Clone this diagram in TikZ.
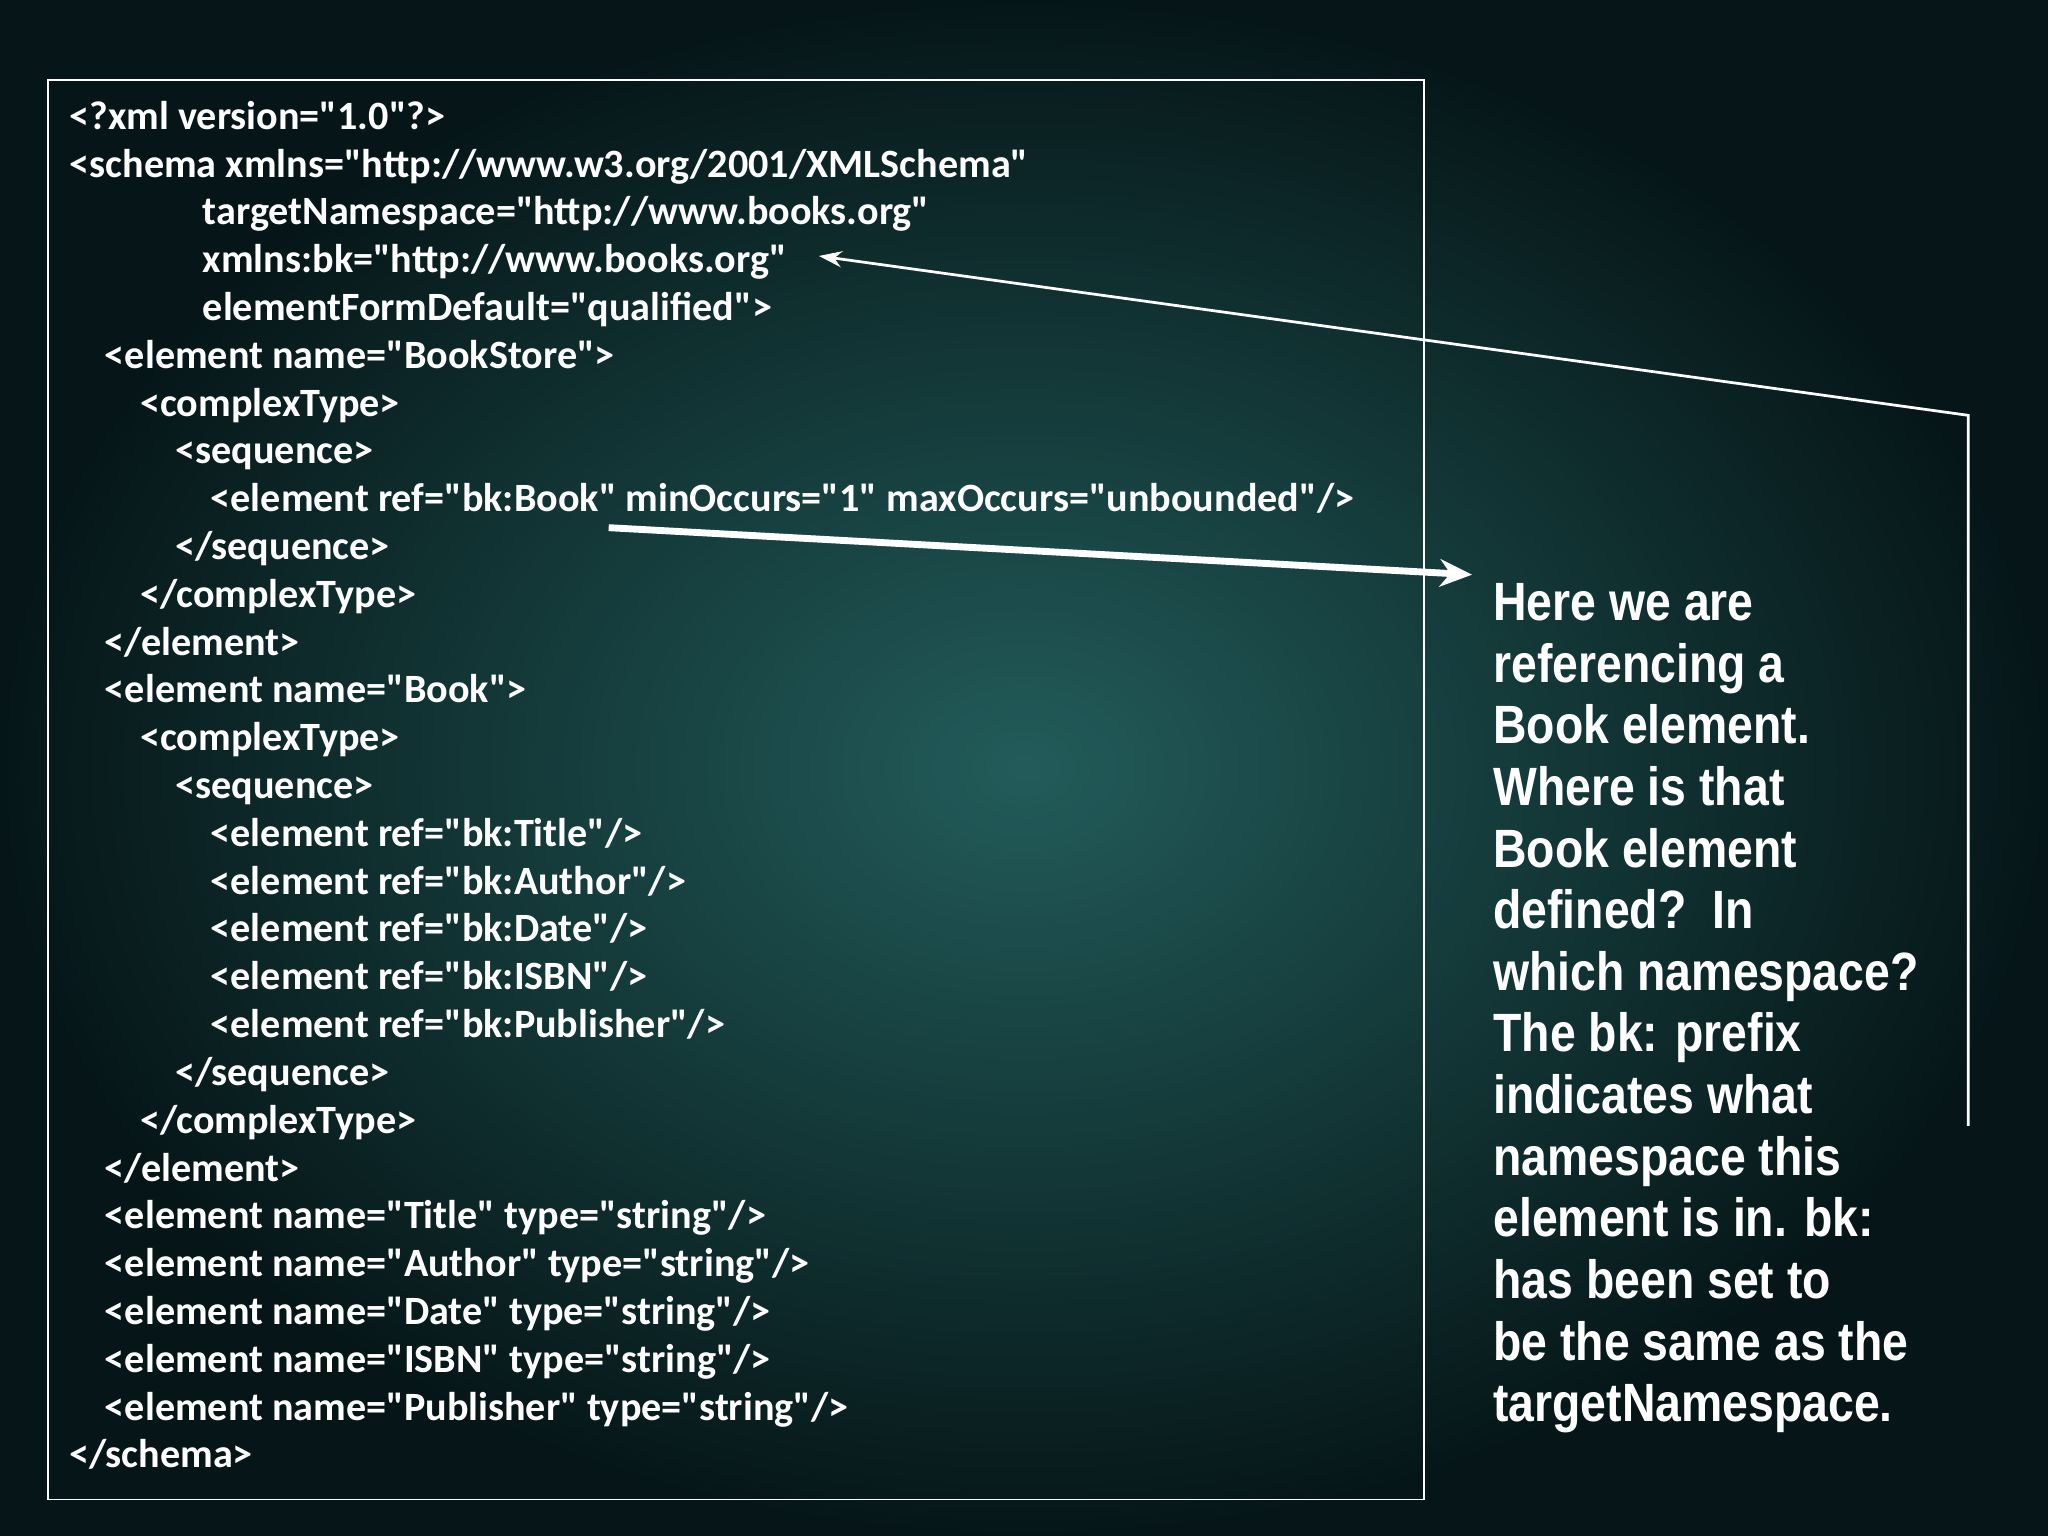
\documentclass[tikz,border=0pt]{standalone}
\usepackage{fontspec}
\setmainfont{Carlito}
\newfontfamily\blk{Liberation Sans}[FakeStretch=0.86]
\usetikzlibrary{arrows.meta}
\definecolor{bgin}{RGB}{34,92,90}
\definecolor{bgout}{RGB}{6,22,24}
\newcommand\q{\textquotedbl}
\begin{document}
\begin{tikzpicture}[x=0.02cm,y=-0.02cm,
  code/.style={anchor=base west,text=white,font=\bfseries\fontsize{17.5}{20}\selectfont,inner sep=0pt},
  note/.style={anchor=base west,text=white,font=\blk\bfseries\fontsize{23.5}{28}\selectfont,inner sep=0pt}]
\useasboundingbox (0,0) rectangle (1568,1176);
\shade[inner color=bgin,outer color=bgout] (0,0) rectangle (1568,1176);
\draw[white,line width=0.8pt] (37,61) rectangle (1090,1148);
\def\L{36.6}
\foreach \i/\x/\t in {0/53/{<?xml version=\q1.0\q?>},
1/53/{<schema xmlns=\q http://www.w3.org/2001/XMLSchema\q},
2/155/{targetNamespace=\q http://www.books.org\q},
3/155/{xmlns:bk=\q http://www.books.org\q},
4/155/{elementFormDefault=\q qualified\q>},
5/80/{<element name=\q BookStore\q>},
6/107/{<complexType>},
7/134/{<sequence>},
8/161/{<element ref=\q bk:Book\q{} minOccurs=\q1\q{} maxOccurs=\q unbounded\q/>},
9/134/{</sequence>},
10/107/{</complexType>},
11/80/{</element>},
12/80/{<element name=\q Book\q>},
13/107/{<complexType>},
14/134/{<sequence>},
15/161/{<element ref=\q bk:Title\q/>},
16/161/{<element ref=\q bk:Author\q/>},
17/161/{<element ref=\q bk:Date\q/>},
18/161/{<element ref=\q bk:ISBN\q/>},
19/161/{<element ref=\q bk:Publisher\q/>},
20/134/{</sequence>},
21/107/{</complexType>},
22/80/{</element>},
23/80/{<element name=\q Title\q{} type=\q string\q/>},
24/80/{<element name=\q Author\q{} type=\q string\q/>},
25/80/{<element name=\q Date\q{} type=\q string\q/>},
26/80/{<element name=\q ISBN\q{} type=\q string\q/>},
27/80/{<element name=\q Publisher\q{} type=\q string\q/>},
28/53/{</schema>}}
  \node[code] (c\i) at (\x,{99+\i*\L}) {\t};
\foreach \i/\t in {0/{Here we are},1/{referencing a},2/{Book element.},3/{Where is that},
4/{Book element},5/{defined?\ \ In},6/{which namespace?},7/{The bk: prefix},8/{indicates what},
9/{namespace this},10/{element is in. bk:},11/{has been set to},12/{be the same as the},13/{targetNamespace.}}
  \node[note] (n\i) at (1143,{475+\i*47.2}) {\t};
\coordinate (a0) at (1507,862);
\coordinate (a1) at (1507,318);
\coordinate (a2) at (627,196);
\draw[white,line width=1.2pt,-{Stealth[length=10pt,width=7pt]}] (a0) -- (a1) -- (a2);
\coordinate (b0) at (466,404);
\coordinate (b1) at (1127,440);
\draw[white,line width=3pt,-{Stealth[length=14pt,width=12pt]}] (b0) -- (b1);
\end{tikzpicture}
\end{document}
